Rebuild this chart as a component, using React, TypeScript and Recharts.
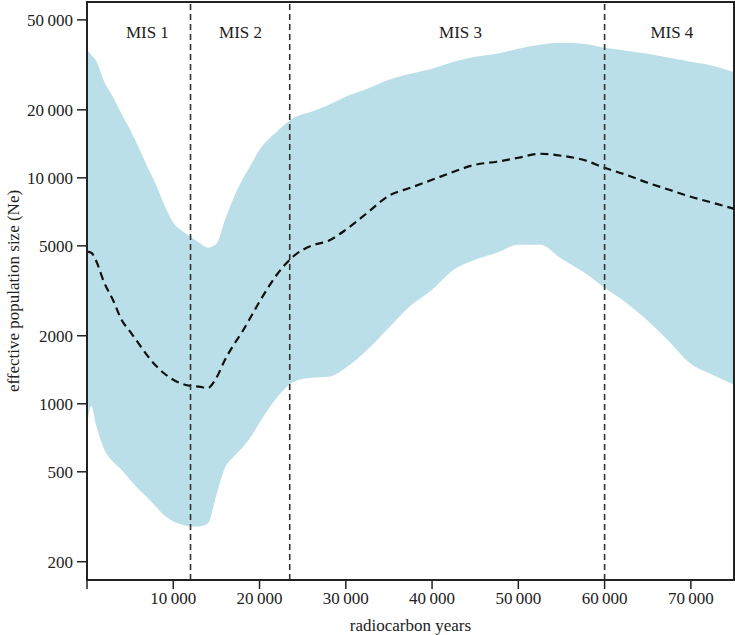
import React from "react";
import {
  ComposedChart,
  Area,
  Line,
  XAxis,
  YAxis,
  ReferenceLine,
  ReferenceArea,
  ReferenceDot,
  Label,
} from "recharts";

// radiocarbon years (x)
const years = [
  0, 500, 1000, 2000, 3000, 4000, 5000, 6000, 7000, 8000, 9000, 10000, 11000,
  12000, 13000, 14000, 15000, 16000, 17000, 18000, 19000, 20000, 22000, 24000,
  26000, 28000, 30000, 32500, 35000, 37500, 40000, 42500, 45000, 47500, 50000,
  52500, 55000, 57500, 60000, 62500, 65000, 67500, 70000, 72500, 75000,
];

// upper bound of the 95% interval
const upper = [
  36900, 35000, 33300, 26600, 22850, 19200, 16320, 13580, 11190, 9320, 7520,
  6320, 5830, 5490, 5160, 4910, 5110, 6520, 8160, 9800, 11420, 13300, 16000,
  18450, 19600, 21000, 22850, 24770, 27150, 28870, 30380, 32620, 34320, 35400,
  37240, 38800, 39600, 39180, 37630, 36490, 35400, 33970, 32620, 31330, 29400,
];

// lower bound of the 95% interval
const lower = [
  800, 980, 820, 627, 555, 511, 461, 417, 384, 350, 320, 301, 292, 286, 286,
  295, 396, 521, 583, 639, 715, 824, 1064, 1253, 1303, 1316, 1445, 1734, 2172,
  2716, 3198, 3917, 4340, 4660, 5058, 5058, 4385, 3837, 3262, 2800, 2331, 1884,
  1503, 1345, 1214,
];

// median Ne
const median = [
  4710, 4660, 4340, 3435, 2887, 2355, 2084, 1845, 1633, 1472, 1358, 1277, 1227,
  1200, 1190, 1175, 1303, 1567, 1824, 2084, 2427, 2831, 3724, 4519, 5003, 5266,
  5890, 7004, 8337, 9036, 9800, 10640, 11430, 11780, 12270, 12780, 12520,
  12020, 11080, 10310, 9506, 8851, 8245, 7762, 7295,
];

const boundaries = [12000, 23500, 60000];
const stageNames = ["MIS 1", "MIS 2", "MIS 3", "MIS 4"];
const stageCentres = [7000, 17800, 43300, 67800];

const xTicks = [0, 10000, 20000, 30000, 40000, 50000, 60000, 70000];
const yTicks = [200, 500, 1000, 2000, 5000, 10000, 20000, 50000];

const data = years.map((year, i) => ({
  year,
  band: [lower[i], upper[i]],
  median: median[i],
}));

const font = "'Liberation Serif', 'Times New Roman', serif";
const ink = "#222";

const fmt = (v: number) => {
  if (v === 0) return "";
  if (v >= 10000) {
    const s = String(v);
    return s.slice(0, s.length - 3) + "\u2009" + s.slice(-3);
  }
  return String(v);
};

export default function App() {
  return (
    <div style={{ position: "absolute", left: 0, top: 0, fontFamily: font }}>
      <ComposedChart
        width={735}
        height={635}
        data={data}
        margin={{ top: 2, right: 1, bottom: 0, left: 0 }}
      >
        <XAxis
          dataKey="year"
          type="number"
          domain={[0, 75000]}
          ticks={xTicks}
          tickFormatter={fmt}
          height={55}
          tick={{ fill: ink, fontSize: 17, fontFamily: font }}
          tickSize={9}
          tickMargin={3}
          axisLine={{ stroke: ink, strokeWidth: 2 }}
          tickLine={{ stroke: ink, strokeWidth: 1.5 }}
        >
          <Label
            value="radiocarbon years"
            position="insideBottom"
            offset={4}
            style={{ fill: ink, fontSize: 17, fontFamily: font }}
          />
        </XAxis>
        <YAxis
          type="number"
          scale="log"
          domain={[166, 60000]}
          allowDataOverflow
          ticks={yTicks}
          tickFormatter={fmt}
          width={87}
          tick={{ fill: ink, fontSize: 17, fontFamily: font }}
          tickSize={10}
          tickMargin={4}
          axisLine={{ stroke: ink, strokeWidth: 2 }}
          tickLine={{ stroke: ink, strokeWidth: 1.5 }}
        >
          <Label
            value="effective population size (Ne)"
            angle={-90}
            position="insideLeft"
            offset={13}
            style={{
              fill: ink,
              fontSize: 17,
              fontFamily: font,
              textAnchor: "middle",
            }}
          />
        </YAxis>
        <Area
          dataKey="band"
          type="monotone"
          stroke="none"
          fill="#badfe9"
          fillOpacity={1}
          isAnimationActive={false}
          activeDot={false}
        />
        <Line
          dataKey="median"
          type="monotone"
          stroke="#111"
          strokeWidth={2.2}
          strokeDasharray="8 5"
          dot={false}
          isAnimationActive={false}
        />
        {boundaries.map((b) => (
          <ReferenceLine
            key={b}
            x={b}
            stroke="#333"
            strokeWidth={1.6}
            strokeDasharray="6 4"
          />
        ))}
        {stageNames.map((name, i) => (
          <ReferenceDot
            key={name}
            x={stageCentres[i]}
            y={44000}
            r={0}
            fill="none"
            stroke="none"
            label={{
              value: name,
              position: "center",
              fill: ink,
              fontSize: 17,
              fontFamily: font,
            }}
          />
        ))}
        <ReferenceArea
          x1={0}
          x2={75000}
          y1={166}
          y2={60000}
          fill="none"
          stroke={ink}
          strokeWidth={2}
          ifOverflow="visible"
        />
      </ComposedChart>
    </div>
  );
}
